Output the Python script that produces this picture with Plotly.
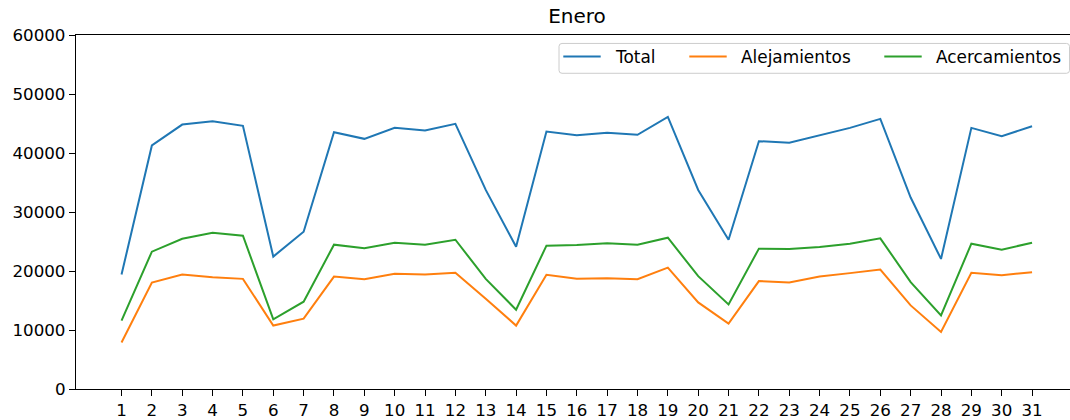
import plotly.graph_objects as go

# Daily counts for January
dias = list(range(1, 32))
total = [19400, 41280, 44820, 45380, 44600, 22440, 26650, 43520, 42400, 44260,
         43810, 44940, 33740, 24120, 43640, 43020, 43420, 43080, 46120, 33740,
         25300, 42000, 41730, 43020, 44260, 45780, 32450, 22050, 44260, 42850,
         44540]
alejamientos = [7880, 18050, 19400, 18960, 18670, 10750, 11930, 19060, 18620, 19520,
                19400, 19690, 15300, 10750, 19350, 18670, 18790, 18620, 20580, 14680,
                11080, 18290, 18050, 19060, 19640, 20240, 14170, 9680, 19690, 19300,
                19800]
acercamientos = [11590, 23280, 25470, 26480, 25980, 11810, 14790, 24460, 23850, 24800,
                 24460, 25300, 18670, 13440, 24290, 24410, 24700, 24460, 25640, 19130,
                 14340, 23790, 23730, 24070, 24630, 25540, 18120, 12480, 24630, 23620,
                 24800]
y_ticks = [0, 10000, 20000, 30000, 40000, 50000, 60000]

names = ["Total", "Alejamientos", "Acercamientos"]
colors = ["#1f77b4", "#ff7f0e", "#2ca02c"]
values = [total, alejamientos, acercamientos]

FONT = "DejaVu Sans"
W, H = 1070, 420
ML, MR, MT, MB = 76, 0, 35, 29
PW, PH = W - ML - MR, H - MT - MB


def px(x):
    """Horizontal pixel -> paper fraction."""
    return (x - ML) / PW


def py(y):
    """Vertical pixel (from top) -> paper fraction."""
    return (H - MB - y) / PH


fig = go.Figure()
for name, vals, color in zip(names, values, colors):
    fig.add_trace(go.Scatter(x=dias, y=vals, mode="lines", name=name,
                             line=dict(color=color, width=2), showlegend=False))

# Legend box in the upper right corner, single row
box_l, box_r, box_t, box_b, rad = 559, 1069.5, 43.5, 73.5, 3
x0, x1, y0, y1 = px(box_l), px(box_r), py(box_b), py(box_t)
rx, ry = rad / PW, rad / PH
path = (f"M{x0 + rx},{y0} L{x1 - rx},{y0} Q{x1},{y0} {x1},{y0 + ry} "
        f"L{x1},{y1 - ry} Q{x1},{y1} {x1 - rx},{y1} L{x0 + rx},{y1} "
        f"Q{x0},{y1} {x0},{y1 - ry} L{x0},{y0 + ry} Q{x0},{y0} {x0 + rx},{y0} Z")
shapes = [dict(type="path", xref="paper", yref="paper", path=path,
               fillcolor="rgba(255,255,255,0.8)", line=dict(color="#cccccc", width=1),
               layer="above")]
annotations = []
entry_starts = [563.3, 689.3, 884.3]
sample_len, text_gap, row_y = 37.4, 50, 56.5
for name, color, sx in zip(names, colors, entry_starts):
    shapes.append(dict(type="line", xref="paper", yref="paper",
                       x0=px(sx), x1=px(sx + sample_len), y0=py(row_y), y1=py(row_y),
                       line=dict(color=color, width=2), layer="above"))
    annotations.append(dict(text=name, xref="paper", yref="paper",
                            x=px(sx + text_gap), y=py(row_y + 0.5),
                            xanchor="left", yanchor="middle", showarrow=False,
                            font=dict(family=FONT, size=16.9, color="#000000")))

fig.update_layout(
    width=W, height=H,
    margin=dict(l=ML, r=MR, t=MT, b=MB),
    plot_bgcolor="white", paper_bgcolor="white",
    font=dict(family=FONT, size=16.7, color="#000000"),
    title=dict(text="Enero", font=dict(family=FONT, size=20, color="#000000"),
               x=0.504, xref="paper", xanchor="center",
               y=1 - 16 / H, yref="container", yanchor="middle"),
    shapes=shapes,
    annotations=annotations,
    xaxis=dict(range=[-0.5, 32.25], tickmode="array", tickvals=dias,
               ticktext=[str(d) for d in dias],
               showgrid=False, zeroline=False,
               showline=True, linecolor="#000000", linewidth=1.3, mirror=True,
               ticks="outside", ticklen=6, tickwidth=1.3, tickcolor="#000000"),
    yaxis=dict(range=[0, 60000], tickmode="array", tickvals=y_ticks,
               ticktext=[str(v) for v in y_ticks],
               showgrid=False, zeroline=False,
               showline=True, linecolor="#000000", linewidth=1.3, mirror=False,
               ticks="outside", ticklen=6, tickwidth=1.3, tickcolor="#000000"),
)

fig.write_html("out.html")
